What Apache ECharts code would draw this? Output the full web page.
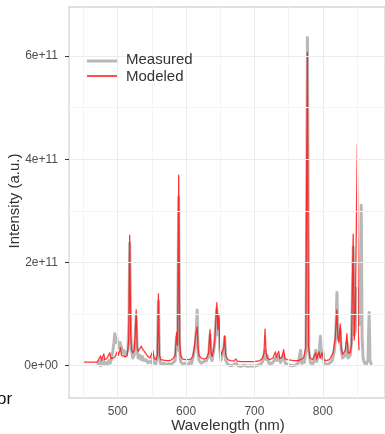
<!DOCTYPE html>
<html>
<head>
<meta charset="utf-8">
<script src="https://cdn.jsdelivr.net/npm/echarts@6/dist/echarts.min.js"></script>
<style>
html,body{margin:0;padding:0;background:#fff;}
#chart{width:385px;height:434px;}
</style>
</head>
<body>
<div id="chart"></div>
<script>
// Values in units of 1e11 (a.u.)
const unit = 1e11;
const xTickValues = [500, 600, 700, 800];
const yTickValues = [0, 2, 4, 6];
const seriesNames = ['Measured', 'Modeled'];

const measuredWavelength = [470,472,474,475,477,479,480.5,483,485,487,489,491,493,494.5,495.7,497,498.5,500.5,502,503.5,505.5,507,509,511,513,515,516.5,517.5,518.8,520,522,524,525.5,527,528.5,530,532,534,536,538,541,544,547,550,551.6,553,556,558,559.5,561,563,567,571,575,578,581,584,586,587.5,589.2,590.5,592,595,599,603,606,608,610,612,614,616.2,617.5,619,622,626,630,633,635,636.5,638,640,642,643.5,645,646.5,648,649.5,651,653,655,656.5,658,661,665,670,673,676,680,685,690,695,700,705,709,712,715.5,717,719,721,725,728,730.7,733,735.5,738,742.8,745,750,755,760,764,767.5,769,773,775.5,777.5,779.5,782,786,789.7,791,794.5,796.5,798,800,802,806,810,814,817,819,820.7,822,823.5,825.5,827,829,831,833,835.3,837,840,842,844.5,846,848,850.5,852,854,856.2,857.5,859,861,864,866,867.8,869,871,872];
const measuredIntensity = [0.02,-0.01,0.08,0.0,0.05,0.12,0.02,0.06,0.02,0.10,0.05,0.15,0.30,0.45,0.62,0.45,0.55,0.54,0.35,0.45,0.35,0.25,0.30,0.20,0.25,0.30,0.90,2.38,0.70,0.30,0.15,0.20,0.50,0.95,0.30,0.15,0.20,0.12,0.18,0.10,0.12,0.06,0.08,0.05,0.20,0.05,0.04,0.20,1.25,0.15,0.03,0.05,0.02,0.04,0.02,0.06,0.10,0.55,0.30,3.27,0.35,0.08,0.03,0.05,0.02,0.08,0.04,0.15,0.30,0.45,1.08,0.25,0.10,0.05,0.08,0.10,0.20,0.60,0.15,0.10,0.25,0.45,0.80,1.10,0.60,0.90,0.30,0.10,0.12,0.30,0.55,0.10,0.03,0.0,0.02,0.05,0.0,-0.01,0.01,-0.01,0.0,-0.01,0.01,0.03,0.08,0.30,0.12,0.20,0.05,0.04,0.08,0.15,0.10,0.18,0.06,0.20,0.05,0.02,0.0,0.01,0.05,0.30,0.05,0.06,0.30,6.36,0.30,0.05,0.04,0.30,0.08,0.25,0.57,0.15,0.30,0.05,0.02,0.05,0.10,0.30,0.60,1.42,0.60,0.50,0.70,0.30,0.15,0.12,0.20,0.45,0.15,0.20,0.45,2.30,0.60,0.70,1.50,1.20,0.80,3.11,0.55,0.15,0.05,0.04,0.10,1.03,0.10,0.03,0.02];

const modeledWavelength = [450,470,472,474.8,476,478,479.6,481,484,486,488.4,490,493,496,499.6,501,502,504,505.5,508,511,514,516,517.5,519,520.5,522,524,525.5,527,528.5,530,532,534.5,536,538,541,544,547,549,551.6,553,556,558,559.5,561,563,567,571,575,578,581,584,586,587.5,589.2,590.5,592,595,599,603,607,610,612,614,616.2,617.5,619,622,626,630,633,635,636.5,638,640,642,643.5,645,646.5,648,649.5,651,653,655,656.5,658,661,665,670,672.8,675,680,690,700,708,712,714,715.5,717,719,723,727,730.7,732,735.5,737,740,742.8,744.5,748,753,758,763,768,772,775,777.5,779,781,785,789.7,791,794.5,796,799,801,805,810,815,818,820.5,822,823.5,825.5,827,829,831,833,835.3,837,840,842,844.5,846,847.5,850.5,852,853];
const modeledIntensity = [0.07,0.07,0.10,0.19,0.10,0.12,0.23,0.12,0.14,0.13,0.25,0.14,0.15,0.17,0.28,0.20,0.22,0.35,0.20,0.18,0.17,0.20,0.50,2.53,0.60,0.30,0.25,0.30,0.60,1.08,0.35,0.28,0.30,0.38,0.33,0.30,0.24,0.18,0.15,0.16,0.29,0.15,0.12,0.20,1.39,0.20,0.12,0.11,0.10,0.10,0.11,0.14,0.20,0.64,0.40,3.69,0.50,0.20,0.13,0.12,0.12,0.13,0.18,0.35,0.60,0.75,0.35,0.20,0.15,0.13,0.15,0.25,0.70,0.25,0.18,0.30,0.50,0.90,1.22,0.70,1.00,0.35,0.20,0.22,0.35,0.58,0.20,0.12,0.10,0.09,0.13,0.09,0.08,0.08,0.08,0.10,0.15,0.25,0.71,0.25,0.14,0.12,0.15,0.27,0.16,0.28,0.14,0.16,0.31,0.14,0.12,0.11,0.10,0.10,0.12,0.15,0.35,6.07,0.40,0.15,0.12,0.25,0.13,0.27,0.15,0.25,0.12,0.10,0.12,0.25,0.50,1.08,0.55,0.45,0.81,0.35,0.22,0.20,0.30,0.62,0.25,0.25,0.40,2.55,0.50,1.00,4.28,0.60,0.30];

const gridX = [450, 500, 550, 600, 650, 700, 750, 800, 850];
const gridY = [0, 1, 2, 3, 4, 5, 6];

function pairs(xs, ys) { return xs.map((x, i) => [x, ys[i] * unit]); }

const font = "'Liberation Sans', Arial, Helvetica, sans-serif";
const measuredColor = 'rgba(160,160,160,0.75)';
const modeledColor = 'rgba(255,20,20,0.85)';
const chart = echarts.init(document.getElementById('chart'), null, {renderer: 'canvas'});

const gridLines = [];
gridX.forEach(v => gridLines.push({xAxis: v, lineStyle: {color: v % 100 === 0 ? '#ebebeb' : '#f5f5f5', width: 1, type: 'solid'}}));
gridY.forEach(v => gridLines.push({yAxis: v * unit, lineStyle: {color: v % 2 === 0 ? '#ebebeb' : '#f5f5f5', width: 1, type: 'solid'}}));

chart.setOption({
  animation: false,
  backgroundColor: '#ffffff',
  grid: {left: 69, top: 7, width: 318, height: 391, show: true, borderColor: '#d6d6d6', borderWidth: 1.3, backgroundColor: 'transparent'},
  xAxis: {
    type: 'value', min: 428.7, max: 891,
    axisLine: {show: false},
    splitLine: {show: false},
    axisTick: {show: true, length: 4, lineStyle: {color: '#333'}, customValues: xTickValues},
    axisLabel: {customValues: xTickValues, margin: 8, color: '#4d4d4d', fontFamily: font, fontSize: 12}
  },
  yAxis: {
    type: 'value', min: -0.625 * unit, max: 6.95 * unit,
    axisLine: {show: false},
    splitLine: {show: false},
    axisTick: {show: true, length: 4, lineStyle: {color: '#333'}, customValues: yTickValues.map(v => v * unit)},
    axisLabel: {
      customValues: yTickValues.map(v => v * unit), margin: 11, color: '#4d4d4d', fontFamily: font, fontSize: 12,
      formatter: v => v === 0 ? '0e+00' : (Math.round(v / unit) + 'e+11')
    }
  },
  graphic: [
    {type: 'text', x: 228, y: 426, style: {text: 'Wavelength (nm)', fontFamily: font, fontSize: 15, fill: '#333', align: 'center', verticalAlign: 'middle'}},
    {type: 'text', x: 15, y: 201, rotation: Math.PI / 2, style: {text: 'Intensity (a.u.)', fontFamily: font, fontSize: 15, fill: '#333', align: 'center', verticalAlign: 'middle'}},
    {type: 'text', x: -3, y: 399, style: {text: 'or', fontFamily: font, fontSize: 17, fill: '#111', align: 'left', verticalAlign: 'middle'}},
    {type: 'rect', z: 5, shape: {x: 84, y: 50, width: 116, height: 36}, style: {fill: '#ffffff'}},
    {type: 'line', z: 6, shape: {x1: 87, y1: 61, x2: 117, y2: 61}, style: {stroke: measuredColor, lineWidth: 3}},
    {type: 'line', z: 6, shape: {x1: 87, y1: 76, x2: 117, y2: 76}, style: {stroke: modeledColor, lineWidth: 1.8}},
    {type: 'text', z: 6, x: 126, y: 60, style: {text: seriesNames[0], fontFamily: font, fontSize: 15, fill: '#333', align: 'left', verticalAlign: 'middle'}},
    {type: 'text', z: 6, x: 126, y: 77, style: {text: seriesNames[1], fontFamily: font, fontSize: 15, fill: '#333', align: 'left', verticalAlign: 'middle'}}
  ],
  series: [
    {
      name: 'grid', type: 'line', data: [], z: 0, silent: true,
      markLine: {silent: true, symbol: 'none', label: {show: false}, animation: false, data: gridLines}
    },
    {
      name: seriesNames[0], type: 'line', data: pairs(measuredWavelength, measuredIntensity),
      showSymbol: false, symbol: 'none', z: 2, color: measuredColor,
      lineStyle: {color: measuredColor, width: 3, join: 'round'}
    },
    {
      name: seriesNames[1], type: 'line', data: pairs(modeledWavelength, modeledIntensity),
      showSymbol: false, symbol: 'none', z: 3, color: modeledColor,
      lineStyle: {color: modeledColor, width: 1.3, join: 'round'}
    }
  ]
});
</script>
</body>
</html>
